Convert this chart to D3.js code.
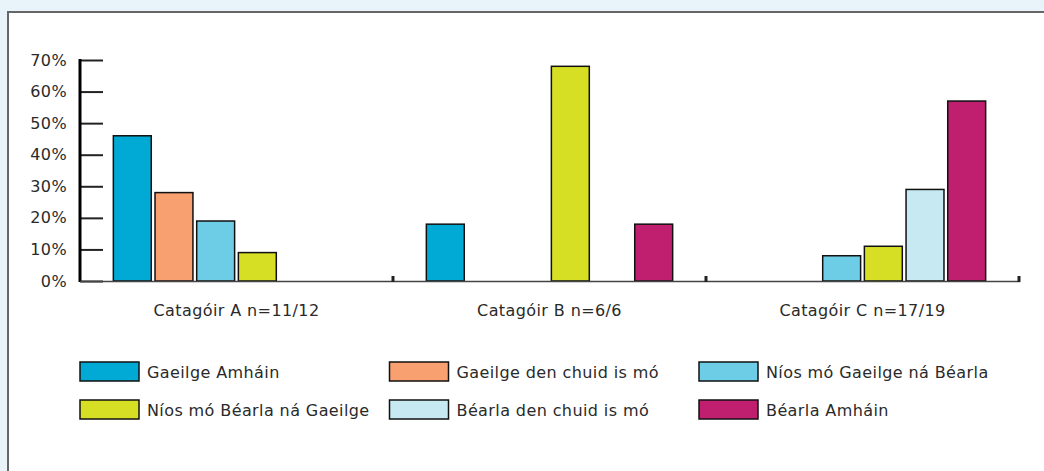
<!DOCTYPE html>
<html>
<head>
<meta charset="utf-8">
<script src="https://cdn.jsdelivr.net/npm/d3@7"></script>
<style>
    body { margin: 0; background: #e8f4f9; }
    svg { display: block; }
    text { font-family: "DejaVu Sans", sans-serif; fill: #2a2a2a; letter-spacing: 0.4px; }
</style>
</head>
<body>
<div class="svgContainer"></div>
<script>
const CATEGORIES = ['Catagóir A n=11/12', 'Catagóir B n=6/6', 'Catagóir C n=17/19'];
const SERIES = ['Gaeilge Amháin', 'Gaeilge den chuid is mó', 'Níos mó Gaeilge ná Béarla',
    'Níos mó Béarla ná Gaeilge', 'Béarla den chuid is mó', 'Béarla Amháin'];
const COLORS = ['#00aad4', '#f9a070', '#6dcde6', '#d6df23', '#c7e9f2', '#c01f70'];
// one array per series, values by category (%)
const GAEILGE_AMHAIN = [46, 18, 0];
const GAEILGE_MOSTLY = [28, 0, 0];
const MORE_GAEILGE = [19, 0, 8];
const MORE_BEARLA = [9, 68, 11];
const BEARLA_MOSTLY = [0, 0, 29];
const BEARLA_AMHAIN = [0, 18, 57];
const VALUES = [GAEILGE_AMHAIN, GAEILGE_MOSTLY, MORE_GAEILGE, MORE_BEARLA, BEARLA_MOSTLY, BEARLA_AMHAIN];
const Y_TICKS = [0, 10, 20, 30, 40, 50, 60, 70];

const WIDTH = 1044;
const HEIGHT = 471;
const X0 = 80, X1 = 1019;
const Y0 = 281, Y1 = 60;
const FONT = 16;

const svg = d3.select('.svgContainer')
    .append('svg')
    .attr('width', WIDTH)
    .attr('height', HEIGHT);

// white panel
svg.append('rect')
    .attr('x', 8).attr('y', 12)
    .attr('width', WIDTH + 10).attr('height', HEIGHT + 10)
    .attr('fill', '#fff')
    .attr('stroke', '#666')
    .attr('stroke-width', 2);

const x = d3.scaleBand().domain(CATEGORIES).range([X0, X1]);
const xInner = d3.scaleBand().domain(SERIES).range([0, x.bandwidth()])
    .paddingInner(0.09).paddingOuter(0.8);
const y = d3.scaleLinear().domain([0, 70]).range([Y0, Y1]);

// y axis
const yAxis = d3.axisRight(y)
    .tickValues(Y_TICKS)
    .tickSize(23)
    .tickFormat(d => d + '%');
const yg = svg.append('g')
    .attr('transform', `translate(${X0}, 0)`)
    .call(yAxis);
yg.select('.domain').remove();
yg.selectAll('.tick line').attr('stroke', '#222').attr('stroke-width', 2);
yg.selectAll('.tick text')
    .attr('x', -13)
    .attr('text-anchor', 'end')
    .attr('font-size', FONT)
    .style('font-family', '"DejaVu Sans", sans-serif')
    .attr('fill', '#2a2a2a');
svg.append('line')
    .attr('x1', X0).attr('x2', X0)
    .attr('y1', y(70) - 1).attr('y2', Y0 + 1)
    .attr('stroke', '#000').attr('stroke-width', 3);

// bars
const groups = svg.selectAll('g.cat')
    .data(CATEGORIES)
    .enter()
    .append('g')
    .attr('class', 'cat')
    .attr('transform', d => `translate(${x(d)}, 0)`);

groups.selectAll('rect')
    .data((d, ci) => SERIES.map((s, si) => ({ s, si, v: VALUES[si][ci] })))
    .enter()
    .append('rect')
    .attr('x', d => xInner(d.s))
    .attr('y', d => y(d.v))
    .attr('width', xInner.bandwidth())
    .attr('height', d => Y0 - y(d.v))
    .attr('fill', d => COLORS[d.si])
    .attr('stroke', d => d.v > 0 ? '#111' : d3.color(COLORS[d.si]).darker(0.6))
    .attr('stroke-width', d => d.v > 0 ? 1.5 : 1)
    .attr('stroke-opacity', d => d.v > 0 ? 1 : 0.5);

// x axis baseline and category separators
svg.append('line')
    .attr('x1', X0).attr('x2', X1 + 1)
    .attr('y1', Y0 + 0.5).attr('y2', Y0 + 0.5)
    .attr('stroke', '#444').attr('stroke-width', 1.5);
svg.selectAll('rect.sep')
    .data(CATEGORIES)
    .enter()
    .append('rect')
    .attr('class', 'sep')
    .attr('x', d => x(d) + x.bandwidth() - 1.5)
    .attr('y', Y0 - 5)
    .attr('width', 3)
    .attr('height', 6)
    .attr('fill', '#222');

// category labels
svg.selectAll('text.cat')
    .data(CATEGORIES)
    .enter()
    .append('text')
    .attr('class', 'cat')
    .attr('x', d => x(d) + x.bandwidth() / 2)
    .attr('y', 316)
    .attr('text-anchor', 'middle')
    .attr('font-size', FONT)
    .text(d => d);

// legend
const legendX = d3.scalePoint().domain([0, 1, 2]).range([80, 699]);
const legend = svg.append('g').attr('id', 'legend');
const items = legend.selectAll('g')
    .data(SERIES)
    .enter()
    .append('g')
    .attr('transform', (d, i) => `translate(${legendX(i % 3)}, ${i < 3 ? 362 : 400})`);
items.append('rect')
    .attr('width', 59)
    .attr('height', 19)
    .attr('fill', (d, i) => COLORS[i])
    .attr('stroke', '#111')
    .attr('stroke-width', 1.5);
items.append('text')
    .attr('x', 67)
    .attr('y', 16)
    .attr('font-size', FONT)
    .text(d => d);
</script>
</body>
</html>
